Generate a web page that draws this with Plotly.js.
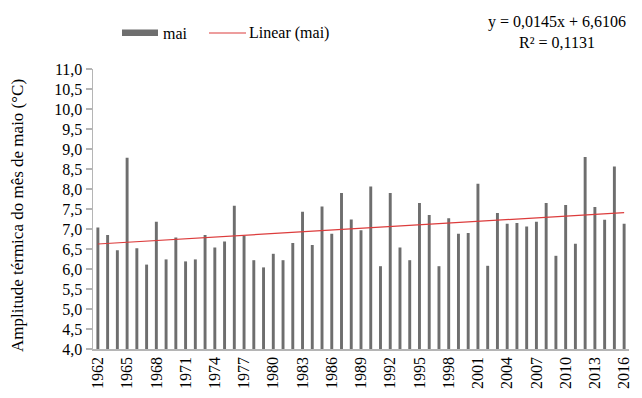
<!DOCTYPE html>
<html>
<head>
<meta charset="utf-8">
<script src="https://cdn.plot.ly/plotly-3.0.1.min.js"></script>
<style>
  html, body { margin: 0; padding: 0; background: #ffffff; }
  #chart { width: 642px; height: 398px; }
  #chart svg text { font-family: 'Liberation Serif', 'Times New Roman', serif !important; }
</style>
</head>
<body>
<div id="chart"></div>
<script>
// Thermal amplitude of May (°C), 1962–2016
const years = [
  1962, 1963, 1964, 1965, 1966, 1967, 1968, 1969, 1970, 1971,
  1972, 1973, 1974, 1975, 1976, 1977, 1978, 1979, 1980, 1981,
  1982, 1983, 1984, 1985, 1986, 1987, 1988, 1989, 1990, 1991,
  1992, 1993, 1994, 1995, 1996, 1997, 1998, 1999, 2000, 2001,
  2002, 2003, 2004, 2005, 2006, 2007, 2008, 2009, 2010, 2011,
  2012, 2013, 2014, 2015, 2016
];
const maiValues = [
  7.04, 6.85, 6.47, 8.78, 6.52, 6.11, 7.18, 6.24, 6.79, 6.19,
  6.24, 6.85, 6.54, 6.69, 7.58, 6.83, 6.22, 6.04, 6.38, 6.22,
  6.65, 7.43, 6.60, 7.56, 6.88, 7.90, 7.24, 6.97, 8.06, 6.07,
  7.90, 6.54, 6.22, 7.65, 7.35, 6.07, 7.27, 6.88, 6.90, 8.13,
  6.08, 7.40, 7.13, 7.15, 7.06, 7.18, 7.65, 6.33, 7.60, 6.63,
  8.80, 7.55, 7.23, 8.56, 7.13
];
const tickYears = [1962, 1965, 1968, 1971, 1974, 1977, 1980, 1983, 1986,
  1989, 1992, 1995, 1998, 2001, 2004, 2007, 2010, 2013, 2016];

// Linear trend as stated by the equation label (x = 1 for the first year)
const trendSlope = 0.0145;
const trendIntercept = 6.6106;
const trendR2 = "0,1131";
const trendX = [years[0], years[years.length - 1]];
const trendY = [1, years.length].map(i => trendIntercept + trendSlope * i);

const serif = "Liberation Serif, Times New Roman, serif";
const barColor = "#6e6e6e";
const lineColor = "#dc3c3c";
const axisColor = "#b5b5b5";

const traces = [
  {
    type: "bar", name: "mai", x: years, y: maiValues,
    marker: { color: barColor }, showlegend: false, hoverinfo: "x+y"
  },
  {
    type: "scatter", mode: "lines", name: "Linear (mai)",
    x: trendX, y: trendY,
    line: { color: lineColor, width: 1.2 }, showlegend: false
  }
];

const L = 93, R = 629, T = 69, B = 349;
const W = 642, H = 398;
const px = v => (v - L) / (R - L);   // page x -> paper x
const py = v => (B - v) / (B - T);   // page y -> paper y

const layout = {
  width: W, height: H,
  margin: { l: L, r: W - R, t: T, b: H - B, pad: 0 },
  paper_bgcolor: "#ffffff", plot_bgcolor: "#ffffff",
  separators: ",.",
  bargap: 0.7,
  font: { family: serif, size: 16, color: "#000000" },
  xaxis: {
    range: [1961.5, 2016.5],
    tickmode: "array", tickvals: tickYears, ticktext: tickYears.map(String),
    tickangle: -90, ticks: "", showgrid: false, zeroline: false,
    showline: true, linecolor: axisColor, linewidth: 1.5,
    tickfont: { family: serif, size: 16, color: "#000000" }
  },
  yaxis: {
    range: [4, 11], dtick: 0.5, tick0: 4, tickformat: ".1f",
    ticks: "outside", ticklen: 6, tickcolor: axisColor, tickwidth: 1.2,
    showgrid: false, zeroline: false,
    showline: true, linecolor: axisColor, linewidth: 1.5,
    tickfont: { family: serif, size: 16, color: "#000000" }
  },
  shapes: [
    // legend swatches
    { type: "rect", xref: "paper", yref: "paper",
      x0: px(122), x1: px(158), y0: py(36), y1: py(29.5),
      fillcolor: barColor, line: { width: 0 } },
    { type: "line", xref: "paper", yref: "paper",
      x0: px(209), x1: px(246), y0: py(33), y1: py(33),
      line: { color: lineColor, width: 1.2 } }
  ],
  annotations: [
    { xref: "paper", yref: "paper", x: px(161), y: py(33),
      xanchor: "left", yanchor: "middle", showarrow: false,
      text: "mai", font: { family: serif, size: 16 } },
    { xref: "paper", yref: "paper", x: px(247), y: py(33),
      xanchor: "left", yanchor: "middle", showarrow: false,
      text: "Linear (mai)", font: { family: serif, size: 16 } },
    { xref: "paper", yref: "paper", x: px(557), y: py(31.5),
      xanchor: "center", yanchor: "middle", showarrow: false, align: "center",
      text: "y = 0,0145x + 6,6106<br>R² = " + trendR2,
      font: { family: serif, size: 16 } },
    { xref: "paper", yref: "paper", x: px(17), y: py(216),
      xanchor: "center", yanchor: "middle", showarrow: false, textangle: -90,
      text: "Amplitude térmica do mês de maio (°C)",
      font: { family: serif, size: 17 } }
  ]
};

Plotly.newPlot("chart", traces, layout, { displayModeBar: false, staticPlot: true });
</script>
</body>
</html>
